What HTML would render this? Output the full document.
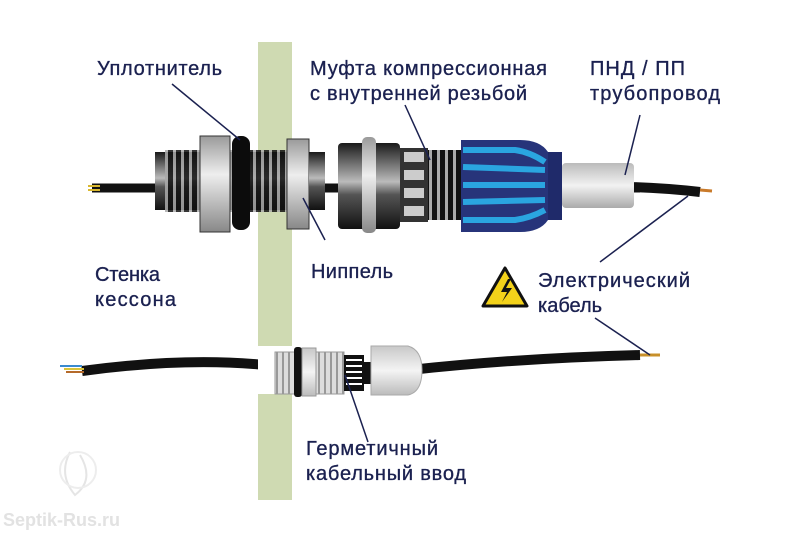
<!DOCTYPE html>
<html><head><meta charset="utf-8"><style>
html,body{margin:0;padding:0;background:#fff;width:800px;height:534px;overflow:hidden}
svg{display:block}
text{font-family:"Liberation Sans","DejaVu Sans",sans-serif;fill:#1b2150;font-size:20px;stroke:#1b2150;stroke-width:0.35}
</style></head><body>
<svg width="800" height="534" viewBox="0 0 800 534" xmlns="http://www.w3.org/2000/svg">
<defs>
<linearGradient id="met" x1="0" y1="0" x2="0" y2="1">
<stop offset="0" stop-color="#1a1a1a"/><stop offset="0.45" stop-color="#bbb"/><stop offset="0.6" stop-color="#555"/><stop offset="1" stop-color="#111"/></linearGradient>
<linearGradient id="lt" x1="0" y1="0" x2="0" y2="1">
<stop offset="0" stop-color="#9a9a9a"/><stop offset="0.4" stop-color="#eee"/><stop offset="1" stop-color="#888"/></linearGradient>
<linearGradient id="pipe" x1="0" y1="0" x2="0" y2="1">
<stop offset="0" stop-color="#bbb"/><stop offset="0.5" stop-color="#f2f2f2"/><stop offset="1" stop-color="#aaa"/></linearGradient>
<linearGradient id="wt" x1="0" y1="0" x2="0" y2="1">
<stop offset="0" stop-color="#c8c8c8"/><stop offset="0.5" stop-color="#f4f4f4"/><stop offset="1" stop-color="#bbb"/></linearGradient>
<pattern id="thr" width="8" height="10" patternUnits="userSpaceOnUse"><rect width="8" height="10" fill="#aaa"/><rect width="5" height="10" fill="#111"/></pattern>
<pattern id="thr2" width="6" height="10" patternUnits="userSpaceOnUse"><rect width="6" height="10" fill="#ddd"/><rect width="2" height="10" fill="#999"/></pattern>
</defs>
<rect x="258" y="42" width="34" height="458" fill="#cfdab2"/>
<path d="M92 188 L640 188" stroke="#111" stroke-width="9"/>
<path d="M630 187 Q665 188 700 192" stroke="#111" stroke-width="10" fill="none"/>
<path d="M88 186 l12 0 M88 190 l12 0" stroke="#d9b830" stroke-width="2"/>
<path d="M700 190 l12 1" stroke="#c97a2a" stroke-width="3"/>
<rect x="155" y="152" width="170" height="58" fill="url(#met)"/>
<rect x="165" y="150" width="140" height="62" fill="url(#thr)" opacity="0.85"/>
<rect x="200" y="136" width="30" height="96" fill="url(#lt)" stroke="#333"/>
<rect x="232" y="136" width="18" height="94" rx="8" fill="#0c0c0c"/>
<rect x="287" y="139" width="22" height="90" fill="url(#lt)" stroke="#333"/>
<rect x="309" y="152" width="14" height="58" fill="url(#met)"/>
<rect x="338" y="143" width="62" height="86" rx="4" fill="url(#met)"/>
<rect x="362" y="137" width="14" height="96" rx="5" fill="url(#lt)"/>
<rect x="400" y="148" width="28" height="74" fill="#333"/>
<rect x="404" y="152" width="20" height="10" fill="#ccc"/><rect x="404" y="170" width="20" height="10" fill="#ccc"/><rect x="404" y="188" width="20" height="10" fill="#ccc"/><rect x="404" y="206" width="20" height="10" fill="#ccc"/>
<rect x="428" y="150" width="34" height="70" fill="url(#thr)"/>
<path d="M461 140 L520 140 Q540 140 548 152 L562 152 L562 220 L548 220 Q540 232 520 232 L461 232 Z" fill="#27347a"/>
<path d="M463 150 L515 150 Q530 152 545 162" stroke="#2aa5e0" stroke-width="6" fill="none"/>
<path d="M463 167 L545 170" stroke="#2aa5e0" stroke-width="6"/>
<path d="M463 185 L545 185" stroke="#2aa5e0" stroke-width="6"/>
<path d="M463 202 L545 200" stroke="#2aa5e0" stroke-width="6"/>
<path d="M463 220 L515 220 Q530 218 545 210" stroke="#2aa5e0" stroke-width="6" fill="none"/>
<rect x="548" y="152" width="14" height="68" fill="#1f2a6a"/>
<rect x="562" y="163" width="72" height="45" rx="4" fill="url(#pipe)"/>
<path d="M82 371 Q200 355 290 368" stroke="#111" stroke-width="10" fill="none"/>
<path d="M60 366 l22 0" stroke="#3a8ad0" stroke-width="2"/><path d="M64 369 l20 0" stroke="#d9c43a" stroke-width="2"/><path d="M66 372 l18 0" stroke="#b56a2a" stroke-width="2"/>
<path d="M410 370 Q520 358 640 355" stroke="#111" stroke-width="10" fill="none"/>
<path d="M640 355 l20 0" stroke="#c8902a" stroke-width="3"/>
<rect x="258" y="346" width="34" height="48" fill="#fff"/>
<rect x="275" y="352" width="30" height="42" fill="url(#thr2)" stroke="#999"/>
<rect x="294" y="347" width="8" height="50" rx="3" fill="#111"/>
<rect x="302" y="348" width="14" height="48" fill="url(#wt)" stroke="#999"/>
<rect x="316" y="352" width="28" height="42" fill="url(#thr2)" stroke="#999"/>
<rect x="344" y="355" width="20" height="36" fill="#111"/>
<path d="M346 360 h16 M346 366 h16 M346 372 h16 M346 378 h16 M346 384 h16" stroke="#fff" stroke-width="2"/>
<rect x="364" y="362" width="12" height="22" fill="#111"/>
<path d="M371 346 L408 346 Q422 350 422 370 Q422 392 408 395 L371 395 Z" fill="url(#wt)" stroke="#aaa"/>
<path d="M505 268 L527 306 L483 306 Z" fill="#f3d21a" stroke="#111" stroke-width="3" stroke-linejoin="round"/>
<path d="M508 279 L501 292 L507 292 L502 302 L512 288 L506 288 L511 279 Z" fill="#111"/>
<g stroke="#1b2150" stroke-width="1.5" fill="none">
<path d="M172 84 L240 140"/>
<path d="M405 105 L430 160"/>
<path d="M640 115 L625 175"/>
<path d="M688 196 L600 262"/>
<path d="M303 198 L325 240"/>
<path d="M345 375 L368 442"/>
<path d="M595 318 L650 355"/>
</g>
<text x="97" y="75" textLength="125">Уплотнитель</text>
<text x="310" y="75" textLength="237">Муфта компрессионная</text>
<text x="310" y="100" textLength="217">с внутренней резьбой</text>
<text x="590" y="75" textLength="95">ПНД / ПП</text>
<text x="590" y="100" textLength="130">трубопровод</text>
<text x="95" y="281" textLength="65">Стенка</text>
<text x="95" y="306" textLength="81">кессона</text>
<text x="311" y="278" textLength="82">Ниппель</text>
<text x="538" y="287" textLength="152">Электрический</text>
<text x="538" y="312">кабель</text>
<text x="306" y="455" textLength="132">Герметичный</text>
<text x="306" y="480" textLength="160">кабельный ввод</text>
<g opacity="0.5"><path d="M70 452 Q58 475 75 495 Q95 480 80 455" stroke="#ccc" stroke-width="2" fill="none"/><circle cx="78" cy="470" r="18" stroke="#ddd" stroke-width="2" fill="none"/></g>
<text x="3" y="526" style="fill:#e2e2e2;stroke:none;font-weight:bold;font-size:18px">Septik-Rus.ru</text>
</svg>
</body></html>
